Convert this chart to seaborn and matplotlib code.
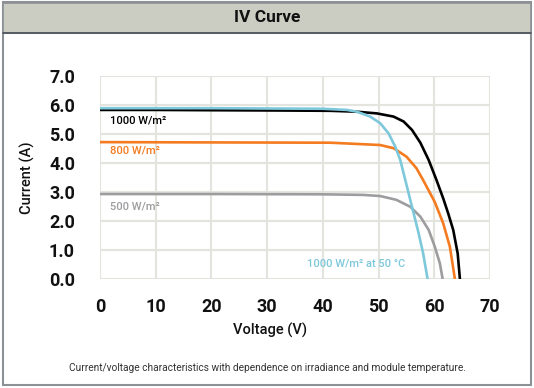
import numpy as np
import pandas as pd
import matplotlib
matplotlib.use("Agg")
import matplotlib.pyplot as plt
from matplotlib.patches import Rectangle
from matplotlib.lines import Line2D
import seaborn as sns

# values
v_1000 = [0, 10, 20, 32.3, 41.3, 46.0, 49.7, 52.7, 54.5, 56.0, 57.5, 59.0, 60.4, 61.6, 62.5, 63.4, 64.2, 64.6]
i_1000 = [5.83, 5.83, 5.82, 5.81, 5.80, 5.77, 5.71, 5.60, 5.43, 5.14, 4.70, 4.10, 3.41, 2.78, 2.26, 1.69, 0.88, 0.0]

v_800 = [0, 20, 41.3, 50.3, 52.7, 55.0, 56.8, 58.0, 59.0, 60.1, 61.6, 62.8, 63.7]
i_800 = [4.72, 4.71, 4.70, 4.62, 4.51, 4.22, 3.82, 3.41, 3.05, 2.65, 1.92, 1.11, 0.0]

v_500 = [0, 20, 40, 47.3, 50.3, 53.2, 55.7, 57.5, 59.0, 60.1, 61.0, 61.5]
i_500 = [2.93, 2.93, 2.92, 2.90, 2.86, 2.73, 2.49, 2.15, 1.69, 1.11, 0.54, 0.0]

v_hot = [0, 20, 40, 44.3, 46.1, 48.5, 50.3, 51.8, 53.0, 53.9, 54.8, 56.0, 57.2, 58.0, 58.8]
i_hot = [5.89, 5.89, 5.87, 5.83, 5.77, 5.60, 5.37, 5.02, 4.56, 4.10, 3.41, 2.49, 1.57, 0.88, 0.0]

labels = ["1000 W/m²", "800 W/m²", "500 W/m²", "1000 W/m² at 50 °C"]
colors = ["#000000", "#F47B20", "#9D9DA0", "#7EC8DB"]

x_ticks = [0, 10, 20, 30, 40, 50, 60, 70]
y_ticks = [0, 1, 2, 3, 4, 5, 6, 7]

frames = []
for lab, v, i in zip(labels, [v_1000, v_800, v_500, v_hot], [i_1000, i_800, i_500, i_hot]):
    frames.append(pd.DataFrame({"voltage": v, "current": i, "series": lab}))
df = pd.concat(frames, ignore_index=True)

sns.set_theme(style="white")
plt.rcParams["font.family"] = ["Roboto", "DejaVu Sans"]

fig = plt.figure(figsize=(5.34, 3.88), dpi=100)
W, H = 534, 388
ax = fig.add_axes([100 / W, 1 - 279 / H, 390 / W, 203 / H])

# outer frame and title band
fig.patches.append(Rectangle((3 / W, 3 / H), 528 / W, 383 / H, transform=fig.transFigure,
                             facecolor="white", edgecolor="#8C9196", lw=1.5, zorder=-10))
fig.patches.append(Rectangle((3 / W, 1 - 33 / H), 528 / W, 30 / H, transform=fig.transFigure,
                             facecolor="#CBCCC2", edgecolor="#8C9196", lw=1.2, zorder=-5))
fig.lines.append(Line2D([3 / W, 531 / W], [1 - 33 / H, 1 - 33 / H], transform=fig.transFigure,
                        color="#4A5258", lw=1.2))
fig.text(0.5, 1 - 18 / H, "IV Curve", ha="center", va="center", fontsize=12.5,
         fontweight="bold", color="#111111")

sns.lineplot(data=df, x="voltage", y="current", hue="series", palette=colors,
             hue_order=labels, sort=False, estimator=None, legend=False, lw=1.9, ax=ax)

ax.set_xlim(0, 70)
ax.set_ylim(0, 7)
ax.set_xticks(x_ticks)
ax.set_yticks(y_ticks)
ax.set_yticklabels([f"{t:.1f}" for t in y_ticks])
ax.grid(True, color="#E4E4DE", lw=1.5)
ax.set_axisbelow(True)
for s in ax.spines.values():
    s.set_visible(False)
ax.tick_params(axis="both", length=0, labelsize=13, colors="#111111")
ax.tick_params(axis="y", pad=18)
ax.tick_params(axis="x", pad=14)
for t in ax.get_xticklabels() + ax.get_yticklabels():
    t.set_fontweight("bold")

ax.set_xlabel("Voltage (V)", fontsize=10.5, color="#111111", fontweight="medium")
ax.set_ylabel("Current (A)", fontsize=10.5, color="#111111", fontweight="medium")
ax.xaxis.set_label_coords(170 / 390, -44 / 203)
ax.yaxis.set_label_coords(-65 / 390, 0.5)

ax.text(1.8, 5.45, labels[0], color=colors[0], fontsize=8, va="center", fontweight="medium")
ax.text(1.8, 4.42, labels[1], color=colors[1], fontsize=8, va="center", fontweight="medium")
ax.text(1.8, 2.49, labels[2], color=colors[2], fontsize=8, va="center", fontweight="medium")
ax.text(37.2, 0.52, labels[3], color=colors[3], fontsize=8, va="center", fontweight="medium")

fig.text(0.5, 1 - 368 / H,
         "Current/voltage characteristics with dependence on irradiance and module temperature.",
         ha="center", va="center", fontsize=7.3, color="#333333")

fig.savefig("out.png", dpi=100)
